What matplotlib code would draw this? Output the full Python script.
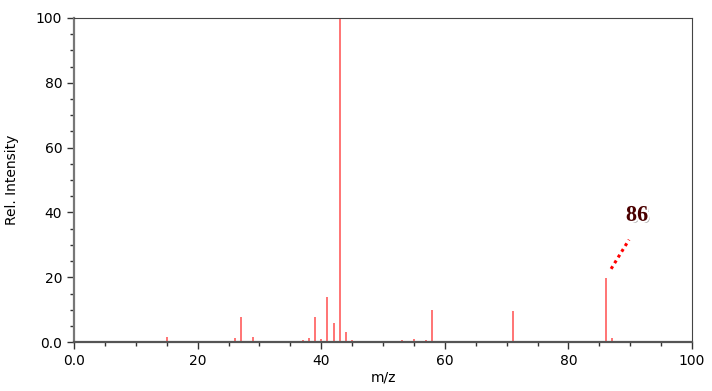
import matplotlib
matplotlib.use("Agg")
import matplotlib.pyplot as plt
import matplotlib.patheffects as pe
from matplotlib.ticker import MultipleLocator, FuncFormatter

# m/z peaks and relative intensities
mz = [15, 26, 27, 28, 29, 30, 37, 38, 39, 40, 41, 42, 43, 44, 45,
      50, 51, 52, 53, 54, 55, 56, 57, 58, 59, 70, 71, 72, 85, 86, 87]
intensity = [1.7, 1.2, 7.7, 0.3, 1.6, 0.3, 0.6, 1.3, 7.9, 1.0, 13.9, 6.0, 100, 3.0, 0.7,
             0.5, 0.3, 0.3, 0.8, 0.3, 1.0, 0.3, 0.6, 9.8, 0.3, 0.3, 9.7, 0.3, 0.3, 19.8, 1.2]

label_text = "86"
label_line = ([86.9, 89.8], [22.6, 31.6])
label_pos = (91.1, 39.0)

fig = plt.figure(figsize=(7.12, 3.91), dpi=100)
ax = fig.add_axes([0.104, 0.125, 0.868, 0.829])

ax.vlines(mz, 0, intensity, colors="#ff3030", linewidth=1.1, alpha=0.85)

# annotation of the molecular ion
ax.plot(*label_line, linestyle=(0, (1, 1.2)), color="red", linewidth=2.2)
ax.text(label_pos[0], label_pos[1], label_text, ha="center", va="center",
        family="Liberation Serif", fontweight="bold", fontsize=16, color="#4a0000",
        path_effects=[pe.SimplePatchShadow(offset=(1.5, -1.5), shadow_rgbFace="black", alpha=0.35),
                      pe.Stroke(linewidth=3, foreground="white"), pe.Normal()])

ax.set_xlim(0, 100)
ax.set_ylim(0, 100)
ax.xaxis.set_major_locator(MultipleLocator(20))
ax.xaxis.set_minor_locator(MultipleLocator(5))
ax.yaxis.set_major_locator(MultipleLocator(20))
ax.yaxis.set_minor_locator(MultipleLocator(5))
fmt = FuncFormatter(lambda v, p: "0.0" if v == 0 else "%d" % v)
ax.xaxis.set_major_formatter(fmt)
ax.yaxis.set_major_formatter(fmt)
ax.tick_params(which="major", direction="out", length=5, width=1, color="#333333", labelsize=10)
ax.tick_params(which="minor", direction="out", length=3, width=1, color="#333333")
for s in ax.spines.values():
    s.set_color("#444444")
ax.spines["left"].set_linewidth(1.6)
ax.spines["bottom"].set_linewidth(1.6)
ax.spines["left"].set_color("#777777")
ax.spines["bottom"].set_color("#555555")

ax.set_xlabel("m/z", fontsize=10, labelpad=2)
ax.set_ylabel("Rel. Intensity", fontsize=10, labelpad=12)

fig.savefig("out.png", dpi=100)
